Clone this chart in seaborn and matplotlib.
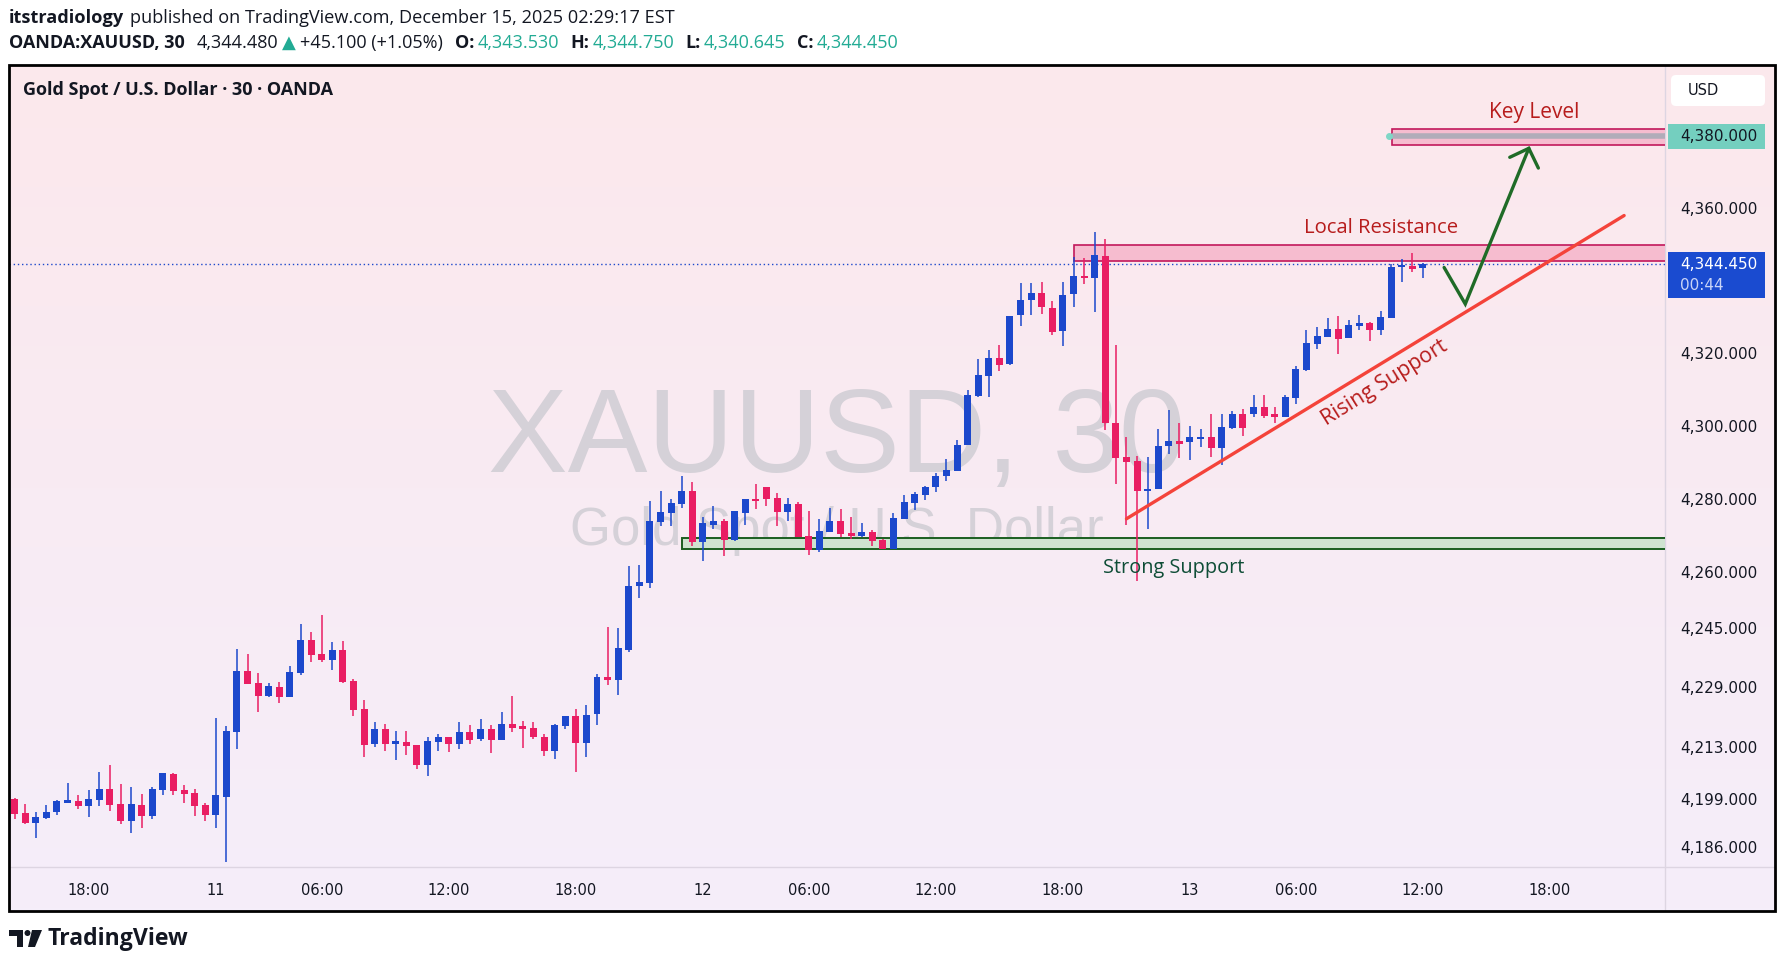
import numpy as np
import pandas as pd
import seaborn as sns
import matplotlib.pyplot as plt
from matplotlib import transforms
from matplotlib.patches import Rectangle, Polygon, Circle, FancyBboxPatch
from matplotlib.ticker import NullLocator, NullFormatter

# 30-minute XAUUSD bars, bar 0 = first candle on the chart
opens = [4198.9, 4195.1, 4192.5, 4193.8, 4195.4, 4197.8, 4198.4, 4197.0, 4198.6, 4201.6,
         4197.6, 4193.0, 4197.3, 4194.3, 4201.3, 4205.6, 4201.3, 4200.5, 4197.3, 4194.6,
         4199.4, 4216.8, 4233.4, 4230.2, 4226.7, 4228.9, 4226.2, 4232.9, 4241.7, 4237.9,
         4236.3, 4239.0, 4230.7, 4223.0, 4213.6, 4217.6, 4213.6, 4214.2, 4213.3, 4208.1,
         4214.2, 4215.5, 4213.7, 4216.8, 4215.0, 4217.6, 4214.8, 4219.2, 4218.4, 4217.9,
         4215.7, 4211.8, 4218.5, 4221.3, 4214.0, 4221.7, 4231.8, 4230.8, 4239.1, 4256.3,
         4257.2, 4273.7, 4276.1, 4278.6, 4282.1, 4268.3, 4272.9, 4274.0, 4268.8, 4276.1,
         4279.9, 4283.2, 4280.2, 4276.4, 4278.6, 4269.9, 4266.1, 4271.0, 4274.0, 4270.7,
         4269.9, 4271.0, 4268.8, 4266.4, 4274.5, 4278.9, 4281.0, 4283.2, 4286.2, 4287.6,
         4294.7, 4308.3, 4313.8, 4318.5, 4317.1, 4330.4, 4334.5, 4336.6, 4332.5, 4326.1,
         4336.2, 4341.2, 4340.8, 4346.7, 4300.8, 4291.4, 4290.3, 4282.1, 4282.6, 4294.6,
         4295.9, 4295.7, 4296.3, 4297.0, 4293.9, 4299.5, 4303.3, 4303.1, 4305.2, 4303.1,
         4302.5, 4307.7, 4315.3, 4322.4, 4324.4, 4326.5, 4324.1, 4327.4, 4328.2, 4326.3,
         4329.5, 4343.6, 4344.0, 4343.53]
highs = [4199.3, 4197.6, 4195.4, 4197.3, 4198.6, 4203.2, 4200.0, 4201.3, 4206.1, 4208.0,
         4202.9, 4202.1, 4200.2, 4202.1, 4205.8, 4205.8, 4202.6, 4201.6, 4197.8, 4220.6,
         4218.4, 4239.3, 4237.9, 4232.9, 4230.2, 4230.5, 4234.7, 4246.0, 4243.8, 4248.4,
         4241.2, 4241.4, 4231.3, 4225.6, 4219.5, 4219.2, 4217.1, 4217.1, 4213.5, 4215.5,
         4216.3, 4215.5, 4219.5, 4218.7, 4220.3, 4218.9, 4222.4, 4226.7, 4220.0, 4219.7,
         4216.3, 4219.2, 4221.3, 4223.2, 4224.3, 4232.6, 4245.1, 4244.9, 4261.7, 4262.0,
         4279.4, 4282.1, 4279.9, 4286.2, 4284.5, 4275.1, 4278.0, 4274.5, 4276.7, 4279.9,
         4284.0, 4283.2, 4281.6, 4280.2, 4279.1, 4276.7, 4274.5, 4277.5, 4277.2, 4275.1,
         4273.4, 4271.5, 4269.1, 4276.1, 4281.0, 4281.8, 4283.5, 4287.0, 4290.9, 4296.2,
         4309.9, 4318.3, 4320.8, 4322.3, 4330.3, 4339.3, 4339.3, 4339.6, 4334.4, 4339.6,
         4346.4, 4346.2, 4353.5, 4351.6, 4322.3, 4296.9, 4291.8, 4291.4, 4299.0, 4304.3,
         4300.9, 4300.0, 4299.2, 4303.3, 4303.3, 4304.1, 4304.7, 4308.5, 4308.5, 4305.2,
         4308.5, 4316.4, 4326.3, 4327.1, 4329.5, 4330.1, 4329.0, 4330.4, 4328.4, 4331.5,
         4344.6, 4345.9, 4347.6, 4344.75]
lows = [4193.6, 4192.2, 4188.5, 4193.5, 4194.6, 4197.8, 4196.2, 4194.1, 4197.0, 4195.7,
        4192.2, 4189.8, 4191.1, 4193.5, 4200.0, 4200.0, 4197.8, 4194.3, 4193.0, 4191.1,
        4182.0, 4212.3, 4229.9, 4222.2, 4226.4, 4224.8, 4226.2, 4232.3, 4235.8, 4235.8,
        4233.7, 4230.2, 4221.1, 4210.1, 4212.8, 4211.7, 4209.3, 4210.7, 4207.0, 4205.1,
        4211.8, 4211.6, 4212.3, 4213.7, 4214.5, 4211.3, 4214.8, 4216.9, 4212.6, 4215.0,
        4210.5, 4209.7, 4217.7, 4206.2, 4210.2, 4218.8, 4229.7, 4227.0, 4238.5, 4253.1,
        4255.8, 4272.6, 4272.6, 4277.5, 4267.2, 4263.1, 4271.8, 4264.5, 4268.5, 4272.9,
        4277.2, 4278.0, 4272.6, 4274.0, 4269.6, 4264.7, 4265.6, 4271.0, 4269.6, 4269.1,
        4269.6, 4267.2, 4266.4, 4266.4, 4274.5, 4277.0, 4279.7, 4281.8, 4284.8, 4287.6,
        4294.7, 4307.8, 4307.8, 4315.1, 4316.8, 4327.3, 4330.4, 4330.7, 4325.0, 4322.0,
        4332.6, 4338.9, 4331.2, 4298.9, 4284.0, 4272.8, 4257.8, 4271.7, 4282.6, 4292.4,
        4291.1, 4290.6, 4294.1, 4291.4, 4289.2, 4299.0, 4297.3, 4302.5, 4302.2, 4300.9,
        4302.5, 4306.1, 4315.1, 4321.1, 4324.4, 4319.7, 4324.1, 4326.3, 4323.3, 4324.9,
        4329.5, 4339.6, 4342.4, 4340.645]
closes = [4195.0, 4192.5, 4194.1, 4195.4, 4198.4, 4198.6, 4197.0, 4198.9, 4201.6, 4197.3,
          4193.0, 4197.6, 4194.3, 4201.6, 4205.8, 4201.0, 4200.2, 4197.0, 4194.6, 4200.0,
          4217.1, 4233.4, 4229.9, 4226.7, 4229.4, 4226.2, 4233.1, 4241.7, 4237.7, 4236.3,
          4239.0, 4230.5, 4222.7, 4213.3, 4217.6, 4213.6, 4214.4, 4213.2, 4208.1, 4214.4,
          4215.5, 4213.7, 4216.8, 4214.8, 4217.6, 4214.8, 4219.2, 4217.9, 4217.7, 4215.6,
          4211.8, 4218.9, 4221.3, 4214.0, 4221.6, 4231.8, 4230.8, 4239.5, 4256.3, 4257.4,
          4274.0, 4276.4, 4278.9, 4282.1, 4268.3, 4273.4, 4274.0, 4268.8, 4276.7, 4279.9,
          4279.4, 4279.9, 4276.4, 4278.6, 4269.6, 4266.1, 4271.3, 4274.0, 4270.4, 4269.9,
          4271.0, 4268.5, 4266.4, 4274.8, 4279.1, 4281.3, 4283.2, 4286.4, 4287.8, 4294.8,
          4308.5, 4314.0, 4318.5, 4316.8, 4330.3, 4334.7, 4336.6, 4332.6, 4325.8, 4336.1,
          4341.2, 4340.7, 4347.0, 4300.7, 4291.1, 4290.0, 4282.1, 4282.8, 4294.5, 4295.9,
          4295.1, 4296.8, 4297.0, 4293.9, 4299.8, 4303.3, 4299.5, 4305.2, 4302.8, 4302.5,
          4308.0, 4315.6, 4322.7, 4324.6, 4326.5, 4323.8, 4327.6, 4328.2, 4326.3, 4329.8,
          4343.7, 4343.8, 4343.3, 4344.45]

time_ticks = [7, 19, 29, 41, 53, 65, 75, 87, 99, 111, 121, 133, 145]
time_labels = ["18:00", "11", "06:00", "12:00", "18:00", "12", "06:00", "12:00",
               "18:00", "13", "06:00", "12:00", "18:00"]
price_ticks = [4186, 4199, 4213, 4229, 4245, 4260, 4280, 4300, 4320, 4360]

last_price = 4344.45
key_level = 4380.0
key_zone = (130.1, 4377.6, 4382.0)
resistance_zone = (100.0, 4345.5, 4349.7)
support_zone = (63.0, 4266.4, 4269.4)
rising_x = [105.0, 152.0]
rising_y = [4274.6, 4358.0]
arrow_x = [135.0, 137.0, 143.0]
arrow_y = [4343.6, 4333.5, 4376.7]
head_x = [141.2, 143.0, 143.9]
head_y = [4374.2, 4376.7, 4371.2]

W, H = 1785, 965
BLUE, RED, TEAL, INK = "#1c48cc", "#e91e63", "#22ab94", "#131722"
LABEL_RED, LABEL_GREEN = "#b71c1c", "#0e4d36"
SANS = ["Open Sans", "DejaVu Sans"]

sns.set_theme(style="white")
plt.rcParams["font.family"] = ["DejaVu Sans"]

df = pd.DataFrame({"open": opens, "high": highs, "low": lows, "close": closes})
df["bar"] = np.arange(len(df))
df["color"] = np.where(df["close"] >= df["open"], BLUE, RED)
df["body_lo"] = df[["open", "close"]].min(axis=1)
df["body_h"] = (df["close"] - df["open"]).abs().clip(lower=0.6)

fig = plt.figure(figsize=(W / 100, H / 100), dpi=100)

# pixel canvas for header, background and frame
bg = fig.add_axes([0, 0, 1, 1], zorder=0)
bg.set_xlim(0, W)
bg.set_ylim(H, 0)
bg.axis("off")

FL, FR, FT, FB = 9, 1775, 65, 911
PR, PB = 1665, 867

top_c = np.array([252, 232, 236]) / 255
bot_c = np.array([245, 238, 250]) / 255
g = np.linspace(0, 1, 256)[:, None, None]
bg.imshow(top_c + (bot_c - top_c) * g, extent=(FL, FR, FB, FT), aspect="auto")
bg.plot([PR, PR], [FT, FB], color="#ddd5e2", lw=1)
bg.plot([FL, FR], [PB, PB], color="#ddd5e2", lw=1)

# main price axes
ax = fig.add_axes([FL / W, 1 - PB / H, (PR - FL) / W, (PB - FT) / H], zorder=2)
ax.set_facecolor("none")
ax.set_yscale("log")
ax.set_xlim(-0.53, 155.86)
ax.set_ylim(4180.8, 4400.0)
for s in ax.spines.values():
    s.set_visible(False)

# watermark
ax.text(0.5, 0.4925, "XAUUSD, 30", transform=ax.transAxes, ha="center", va="baseline",
        fontsize=86, color="#d5d1d8", family="Liberation Sans", zorder=0)
ax.text(0.5, 0.4015, "Gold Spot / U.S. Dollar", transform=ax.transAxes, ha="center",
        va="baseline", fontsize=38, color="#d5d1d8", family="Liberation Sans", zorder=0)

# zones
x_end = 200
ax.add_patch(Rectangle((support_zone[0], support_zone[1]), x_end, support_zone[2] - support_zone[1],
                       fc="#cfe3d0", ec="#1b5e20", lw=1.4, zorder=1))
ax.add_patch(Rectangle((resistance_zone[0], resistance_zone[1]), x_end,
                       resistance_zone[2] - resistance_zone[1],
                       fc="#f6bccf", ec="#c2185b", lw=1.2, zorder=1))
ax.add_patch(Rectangle((key_zone[0], key_zone[1]), x_end, key_zone[2] - key_zone[1],
                       fc="#f6bccf", ec="#c2185b", lw=1.2, zorder=1))
ax.hlines(key_level, key_zone[0], x_end, color="#b1acb9", lw=4, zorder=1.5)
ax.plot([key_zone[0] - 0.3], [key_level], "o", color="#7fd6c6", ms=4, zorder=1.6)

ax.axhline(last_price, color=BLUE, lw=1, ls=(0, (1, 2)), zorder=1.8)

# candles
ax.vlines(df["bar"], df["low"], df["high"], colors=df["color"], lw=1.1, zorder=3)
ax.bar(df["bar"], df["body_h"], bottom=df["body_lo"], width=0.66, color=df["color"],
       linewidth=0, zorder=3)

# drawings
sns.lineplot(x=rising_x, y=rising_y, color="#f4433a", lw=2.4, sort=False, ax=ax, zorder=4)
sns.lineplot(x=arrow_x, y=arrow_y, color="#1f6b27", lw=2.4, sort=False, ax=ax, zorder=4,
             solid_joinstyle="miter")
sns.lineplot(x=head_x, y=head_y, color="#1f6b27", lw=2.4, sort=False, ax=ax, zorder=4,
             solid_joinstyle="miter")

lab = dict(family=SANS, zorder=5)
ax.text(143.5, 4386.8, "Key Level", ha="center", va="center", color=LABEL_RED, fontsize=15, **lab)
ax.text(129.0, 4354.4, "Local Resistance", ha="center", va="center", color=LABEL_RED,
        fontsize=14.6, **lab)
ax.text(109.5, 4261.3, "Strong Support", ha="center", va="center", color=LABEL_GREEN,
        fontsize=14.3, **lab)
ax.text(129.4, 4311.8, "Rising Support", ha="center", va="center", color=LABEL_RED,
        rotation=32, rotation_mode="anchor", fontsize=15.3, **lab)

# axes ticks
ax.set_xticks(time_ticks, time_labels)
ax.yaxis.tick_right()
ax.set_yticks(price_ticks, [f"{v:,.3f}" for v in price_ticks])
ax.yaxis.set_minor_locator(NullLocator())
ax.yaxis.set_minor_formatter(NullFormatter())
ax.tick_params(axis="y", length=0, pad=10.8, labelsize=11, labelcolor=INK)
ax.tick_params(axis="x", length=0, pad=11.5, labelsize=10.5, labelcolor=INK)
ax.set_xlabel("")
ax.set_ylabel("")

# price labels on the axis
trans = transforms.blended_transform_factory(ax.transAxes, ax.transData)
ppl = (PB - FT) / np.log(4400.0 / 4180.8)
bx0, bw = (1668 - FL) / (PR - FL), 97 / (PR - FL)
tx = (1680 - FL) / (PR - FL)
f = np.exp(12.5 / ppl)
ax.add_patch(Rectangle((bx0, key_level / f), bw, key_level * f - key_level / f,
                       transform=trans, clip_on=False, fc="#74cfbf", ec="none", zorder=5))
ax.text(tx, key_level, f"{key_level:,.3f}", transform=trans, va="center", ha="left",
        fontsize=11, color=INK, clip_on=False, zorder=6)
top_p = last_price * np.exp(12.3 / ppl)
bot_p = last_price / np.exp(33.3 / ppl)
ax.add_patch(Rectangle((bx0, bot_p), bw, top_p - bot_p, transform=trans, clip_on=False,
                       fc="#1a4bd0", ec="none", zorder=5))
ax.text(tx, last_price, f"{last_price:,.3f}", transform=trans, va="center", ha="left",
        fontsize=11, color="white", clip_on=False, zorder=6)
ax.text(tx, last_price / np.exp(20.7 / ppl), "00:44", transform=trans, va="center",
        ha="left", fontsize=11, color="#c9d4f7", clip_on=False, zorder=6)

bg.add_patch(FancyBboxPatch((1671, 75), 94, 31, boxstyle="round,pad=0,rounding_size=5",
                            fc="white", ec="none"))
bg.text(1688, 90.5, "USD", va="center", ha="left", fontsize=10.5, color=INK)

bg.text(23, 90, "Gold Spot / U.S. Dollar \u00b7 30 \u00b7 OANDA", va="center", ha="left",
        fontsize=13, fontweight="bold", color=INK, family=SANS)


# header lines
def chain(parts, x, y, size):
    prev = None
    for txt, color, weight, gap in parts:
        kw = dict(color=color, fontweight=weight, fontsize=size, family=SANS, ha="left")
        if prev is None:
            prev = bg.text(x, y, txt, va="center", **kw)
        else:
            prev = bg.annotate(txt, xy=(1, 0), xycoords=prev, xytext=(gap, 0),
                               textcoords="offset points", va="bottom", **kw)


chain([("itstradiology", INK, "bold", 0),
       ("published on TradingView.com, December 15, 2025 02:29:17 EST", INK, "normal", 4.5)],
      9, 18, 13.1)
chain([("OANDA:XAUUSD, 30", INK, "bold", 0),
       ("4,344.480", INK, "normal", 8.5),
       ("\u25b2", TEAL, "normal", 2.5),
       ("+45.100 (+1.05%)", INK, "normal", 3.5),
       ("O:", INK, "bold", 8.5), ("4,343.530", TEAL, "normal", 2),
       ("H:", INK, "bold", 8.5), ("4,344.750", TEAL, "normal", 2),
       ("L:", INK, "bold", 8.5), ("4,340.645", TEAL, "normal", 2),
       ("C:", INK, "bold", 8.5), ("4,344.450", TEAL, "normal", 2)],
      9, 43, 13)

# TradingView logo
bg.add_patch(Polygon([(9, 930), (23, 930), (23, 947), (17, 947), (17, 936), (9, 936)],
                     closed=True, fc=INK, ec="none"))
bg.add_patch(Circle((27.5, 933), 3, fc=INK, ec="none"))
bg.add_patch(Polygon([(32, 930), (42, 930), (35, 947), (28, 947)], closed=True, fc=INK, ec="none"))
bg.text(48, 939, "TradingView", va="center", ha="left", fontsize=16.6, fontweight="bold",
        color=INK, family=SANS)

# frame on top
top = fig.add_axes([0, 0, 1, 1], zorder=10)
top.set_xlim(0, W)
top.set_ylim(H, 0)
top.axis("off")
top.add_patch(Rectangle((FL, FT), FR - FL, FB - FT, fill=False, ec="black", lw=2))

fig.savefig("out.png", dpi=100)
